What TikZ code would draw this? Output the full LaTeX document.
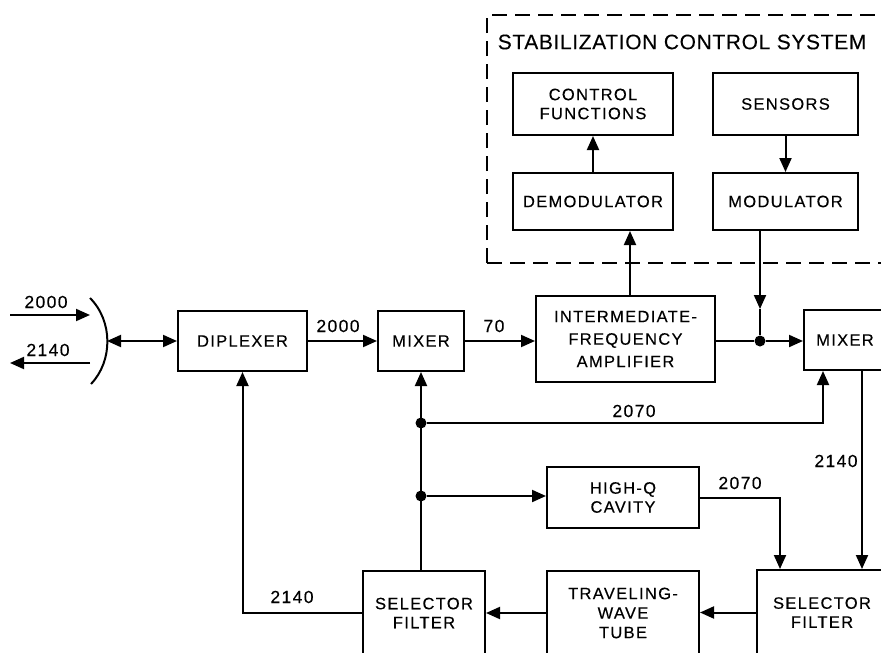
\documentclass[tikz,border=0pt]{standalone}
\usepackage{fontspec}
\newfontfamily\boxfont{Liberation Sans}[LetterSpace=8,FakeBold=0.3]
\newfontfamily\numfont{Liberation Sans}[LetterSpace=8,FakeBold=0.3]
\newfontfamily\titlefont{Liberation Sans}[LetterSpace=3,FakeBold=0.15]
\usetikzlibrary{arrows.meta}
\begin{document}
\begin{tikzpicture}[x=1pt,y=-1pt,
  blk/.style={draw, line width=2pt, inner sep=0pt, align=center, font=\boxfont\fontsize{16.5}{19}\selectfont},
  lbl/.style={inner sep=0pt, font=\numfont\fontsize{17.5}{19}\selectfont},
  ln/.style={line width=2pt},
  arr/.style={ln, -{Triangle[length=14pt,width=12pt]}},
  darr/.style={ln, {Triangle[length=14pt,width=12pt]}-{Triangle[length=14pt,width=12pt]}},
  dot/.style={circle, fill, inner sep=0pt, minimum size=11pt},
  dsh/.style={ln, dash pattern=on 15pt off 8pt}]
\useasboundingbox (0,0) rectangle (881,653);
\clip (0,0) rectangle (881,653);

% boxes
\node[blk, minimum width=129pt, minimum height=60pt] (dip) at (242.5,341) {DIPLEXER};
\node[blk, minimum width=86pt, minimum height=60pt] (mix1) at (421,341) {MIXER};
\node[blk, minimum width=179pt, minimum height=86pt, font=\boxfont\fontsize{16.5}{22.5}\selectfont] (ifa) at (625.5,339) {INTERMEDIATE-\\FREQUENCY\\AMPLIFIER};
\node[blk, minimum width=82pt, minimum height=60pt] (mix2) at (845,340) {MIXER};
\node[blk, minimum width=160pt, minimum height=62pt] (cf) at (593,104) {CONTROL\\FUNCTIONS};
\node[blk, minimum width=145pt, minimum height=62pt] (sen) at (785.5,104) {SENSORS};
\node[blk, minimum width=160pt, minimum height=57pt] (dem) at (593,201.5) {DEMODULATOR};
\node[blk, minimum width=145pt, minimum height=57pt] (mod) at (785.5,201.5) {MODULATOR};
\node[blk, minimum width=152pt, minimum height=61pt] (cav) at (623,497.5) {HIGH-Q\\CAVITY};
\node[blk, minimum width=152pt, minimum height=84pt, font=\boxfont\fontsize{16.5}{19.5}\selectfont] (twt) at (623,613) {TRAVELING-\\WAVE\\TUBE};
\node[blk, minimum width=122pt, minimum height=84pt] (sel1) at (424,613) {SELECTOR\\FILTER};
\node[blk, minimum width=130pt, minimum height=85pt] (sel2) at (822,612.5) {SELECTOR\\FILTER};

% stabilization control system frame
\node[inner sep=0pt, font=\titlefont\fontsize{21}{24}\selectfont] (title) at (682,42) {STABILIZATION CONTROL SYSTEM};
\draw[dsh] (487,263) -- (487,15) -- (900,15);
\draw[dsh] (487,263) -- (900,263);

% antenna and signals
\coordinate (in1s) at (10,315);
\coordinate (in1e) at (90,315);
\coordinate (out1s) at (90,363);
\coordinate (out1e) at (10,363);
\coordinate (dishT) at (90,298);
\coordinate (dishM) at (107,341);
\coordinate (dishB) at (91,384);
\draw[arr] (in1s) -- (in1e);
\draw[arr] (out1s) -- (out1e);
\node[lbl] (l2000a) at (46,302) {2000};
\node[lbl] (l2140a) at (48,350) {2140};
\draw[ln] (dishT) .. controls (113,321) and (113,361) .. (dishB);
\draw[darr] (dishM) -- (dishM -| dip.west);

% main chain
\draw[arr] (dip.east) -- (mix1.west);
\node[lbl] (l2000b) at (338,326) {2000};
\draw[arr] (mix1.east) -- (mix1.east -| ifa.west);
\node[lbl] (l70) at (494,326) {70};
\node[dot] (j1) at (760,341) {};
\draw[ln] (j1 -| ifa.east) -- (j1);
\draw[arr] (j1) -- (j1 -| mix2.west);
\coordinate (modtip) at (760,309);
\draw[arr] (j1 |- mod.south) -- (modtip);
\draw[ln] (modtip) -- (j1);
\draw[arr] ([xshift=4.5pt]ifa.north) -- ([xshift=4.5pt]ifa.north |- dem.south);
\draw[arr] (dem.north) -- (cf.south);
\draw[arr] (sen.south) -- (mod.north);

% local oscillator loop
\node[dot] (j2) at (421,423) {};
\node[dot] (j3) at (421,496) {};
\draw[arr] (sel1.north -| mix1.south) -- (mix1.south);
\draw[arr] (j2) -| ([xshift=-22pt]mix2.south);
\node[lbl] (l2070a) at (634,411) {2070};
\draw[arr] (j3) -- (j3 -| cav.west);
\draw[arr] (cav.east) -| ([xshift=-42pt]sel2.north);
\node[lbl] (l2070b) at (740,483) {2070};
\draw[arr] ([xshift=17pt]mix2.south) -- ([xshift=17pt]mix2.south |- sel2.north);
\node[lbl] (l2140b) at (836,461) {2140};
\draw[arr] (sel2.west) -- (sel2.west -| twt.east);
\draw[arr] (twt.west) -- (twt.west -| sel1.east);
\draw[arr] (sel1.west) -| (dip.south);
\node[lbl] (l2140c) at (292,597) {2140};
\end{tikzpicture}
\end{document}
